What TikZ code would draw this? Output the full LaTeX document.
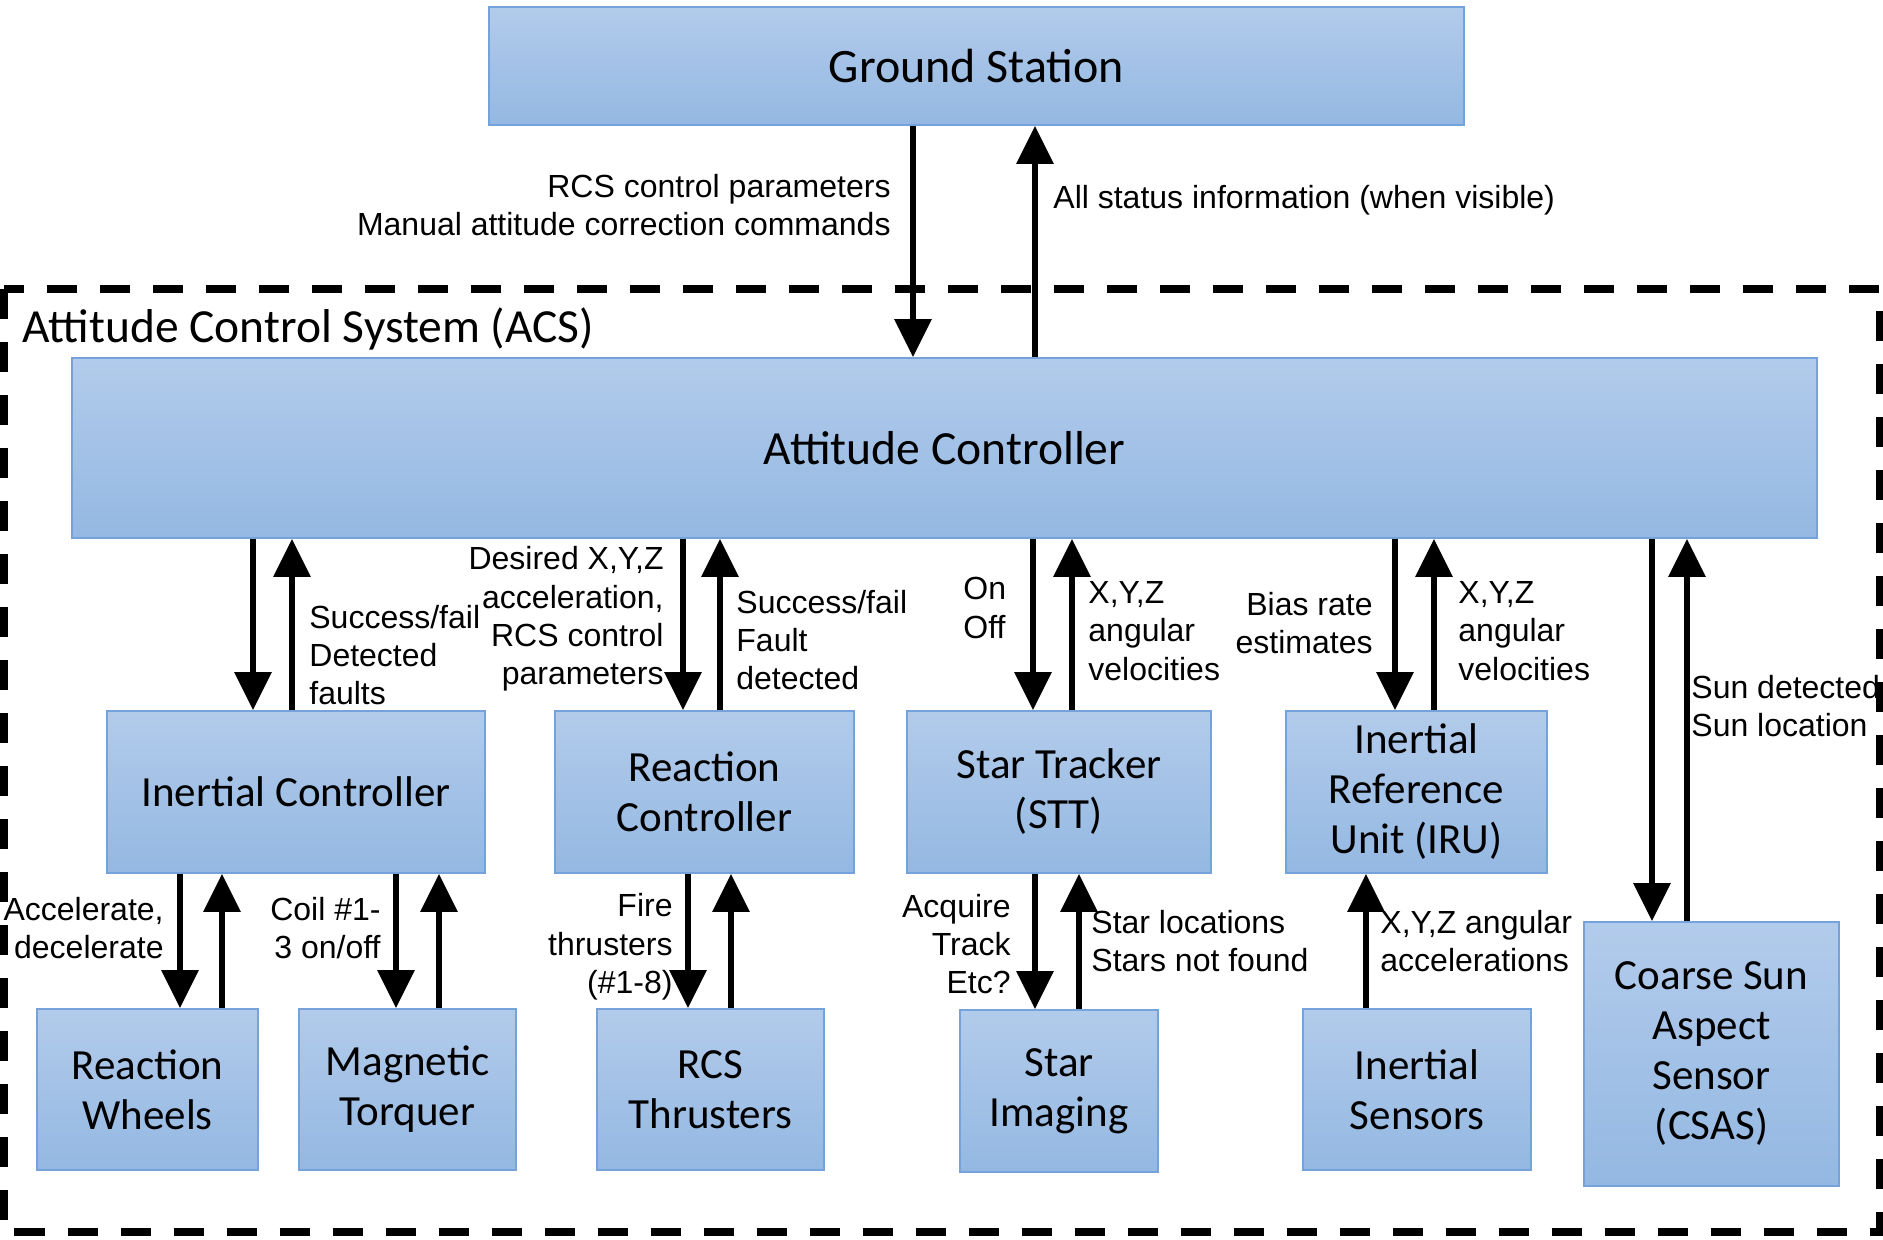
\documentclass[tikz,border=0pt]{standalone}
\usepackage{fontspec}
\setmainfont{Carlito}
\newfontfamily\labfont{Liberation Sans}
\usetikzlibrary{arrows.meta}
\definecolor{boxtop}{RGB}{178,203,235}
\definecolor{boxbot}{RGB}{148,184,226}
\definecolor{boxline}{RGB}{118,162,220}
\begin{document}
\begin{tikzpicture}[x=0.5pt,y=-0.5pt,
  box/.style={draw=boxline, line width=0.8pt, top color=boxtop, bottom color=boxbot,
    inner sep=0pt, align=center, font=\fontsize{21.5}{25}\selectfont},
  lab/.style={inner sep=0pt, font=\labfont\fontsize{16}{19.2}\selectfont},
  labr/.style={lab, anchor=east, align=right},
  labl/.style={lab, anchor=west, align=left},
  arr/.style={line width=3pt, -{Triangle[width=18pt,length=19pt]}},
  acsframe/.style={line width=4pt, dash pattern=on 15pt off 11.5pt}
]
\useasboundingbox (0,0) rectangle (1883,1239);
\fill[white] (0,0) rectangle (1883,1239);

% ACS frame
\draw[acsframe] (3.5,289) rectangle (1879.5,1232);
\node[anchor=base west, inner sep=0pt, font=\fontsize{23.75}{28}\selectfont] (acslab) at (22,342) {Attitude Control System (ACS)};

% boxes
\node[box, minimum width=487.5pt, minimum height=59pt, font=\fontsize{24}{28}\selectfont] (gs) at (976.5,66) {Ground Station};
\node[box, minimum width=872.5pt, minimum height=90pt, font=\fontsize{23.8}{28}\selectfont] (ac) at (944.5,448) {Attitude Controller};
\node[box, minimum width=189pt, minimum height=81pt] (ic) at (296,792) {Inertial Controller};
\node[box, minimum width=149.5pt, minimum height=81pt] (rc) at (704.5,792) {Reaction\\Controller};
\node[box, minimum width=152pt, minimum height=81pt] (st) at (1059,792) {Star Tracker\\(STT)};
\node[box, minimum width=130.5pt, minimum height=81pt] (iru) at (1416.5,792) {Inertial\\Reference\\Unit (IRU)};
\node[box, minimum width=110.5pt, minimum height=80.5pt] (rw) at (147.5,1089.5) {Reaction\\Wheels};
\node[box, minimum width=108.5pt, minimum height=80.5pt] (mt) at (407.5,1089.5) {Magnetic\\Torquer};
\node[box, minimum width=113.5pt, minimum height=80.5pt] (rt) at (710.5,1089.5) {RCS\\Thrusters};
\node[box, minimum width=99pt, minimum height=81pt] (si) at (1059,1091) {Star\\Imaging};
\node[box, minimum width=114pt, minimum height=80.5pt] (is) at (1417,1089.5) {Inertial\\Sensors};
\node[box, minimum width=127.5pt, minimum height=132pt] (csas) at (1711.5,1054) {Coarse Sun\\Aspect\\Sensor\\(CSAS)};

% arrows
\draw[arr] (gs.south -| 913,0) -- (ac.north -| 913,0);
\draw[arr] (ac.north -| 1035,0) -- (gs.south -| 1035,0);

\draw[arr] (ac.south -| 253,0) -- (ic.north -| 253,0);
\draw[arr] (ic.north -| 292,0) -- (ac.south -| 292,0);
\draw[arr] (ac.south -| 683,0) -- (rc.north -| 683,0);
\draw[arr] (rc.north -| 720,0) -- (ac.south -| 720,0);
\draw[arr] (ac.south -| 1033,0) -- (st.north -| 1033,0);
\draw[arr] (st.north -| 1072,0) -- (ac.south -| 1072,0);
\draw[arr] (ac.south -| 1395,0) -- (iru.north -| 1395,0);
\draw[arr] (iru.north -| 1434,0) -- (ac.south -| 1434,0);
\draw[arr] (ac.south -| 1652,0) -- (csas.north -| 1652,0);
\draw[arr] (csas.north -| 1687,0) -- (ac.south -| 1687,0);

\draw[arr] (ic.south -| 180,0) -- (rw.north -| 180,0);
\draw[arr] (rw.north -| 222,0) -- (ic.south -| 222,0);
\draw[arr] (ic.south -| 396,0) -- (mt.north -| 396,0);
\draw[arr] (mt.north -| 439,0) -- (ic.south -| 439,0);
\draw[arr] (rc.south -| 688,0) -- (rt.north -| 688,0);
\draw[arr] (rt.north -| 731,0) -- (rc.south -| 731,0);
\draw[arr] (st.south -| 1035,0) -- (si.north -| 1035,0);
\draw[arr] (si.north -| 1079,0) -- (st.south -| 1079,0);
\draw[arr] (is.north -| 1366,0) -- (iru.south -| 1366,0);

% labels
\node[labr] (l1) at (891,205) {RCS control parameters\\Manual attitude correction commands};
\node[labl] (l2) at (1053,200) {All status information (when visible)};
\node[labl] (l3) at (309,655) {Success/fail\\Detected\\faults};
\node[labr] (l4) at (664,619) {Desired X,Y,Z\\acceleration,\\RCS control\\parameters};
\node[labl] (l5) at (736,640) {Success/fail\\Fault\\detected};
\node[labl] (l6) at (963,608) {On\\Off};
\node[labl] (l7) at (1088,631) {X,Y,Z\\angular\\velocities};
\node[labr] (l8) at (1373,623) {Bias rate\\estimates};
\node[labl] (l9) at (1458,631) {X,Y,Z\\angular\\velocities};
\node[labl] (l10) at (1691,706) {Sun detected\\Sun location};
\node[labr] (l11) at (164,928) {Accelerate,\\decelerate};
\node[labr] (l12) at (381,928) {Coil \#1-\\3 on/off};
\node[labr] (l13) at (673,947) {Fire\\thrusters\\(\#1-8)};
\node[labr] (l14) at (1011,944) {Acquire\\Track\\Etc?};
\node[labl] (l15) at (1091,941) {Star locations\\Stars not found};
\node[labl] (l16) at (1380,941) {X,Y,Z angular\\accelerations};
\end{tikzpicture}
\end{document}
